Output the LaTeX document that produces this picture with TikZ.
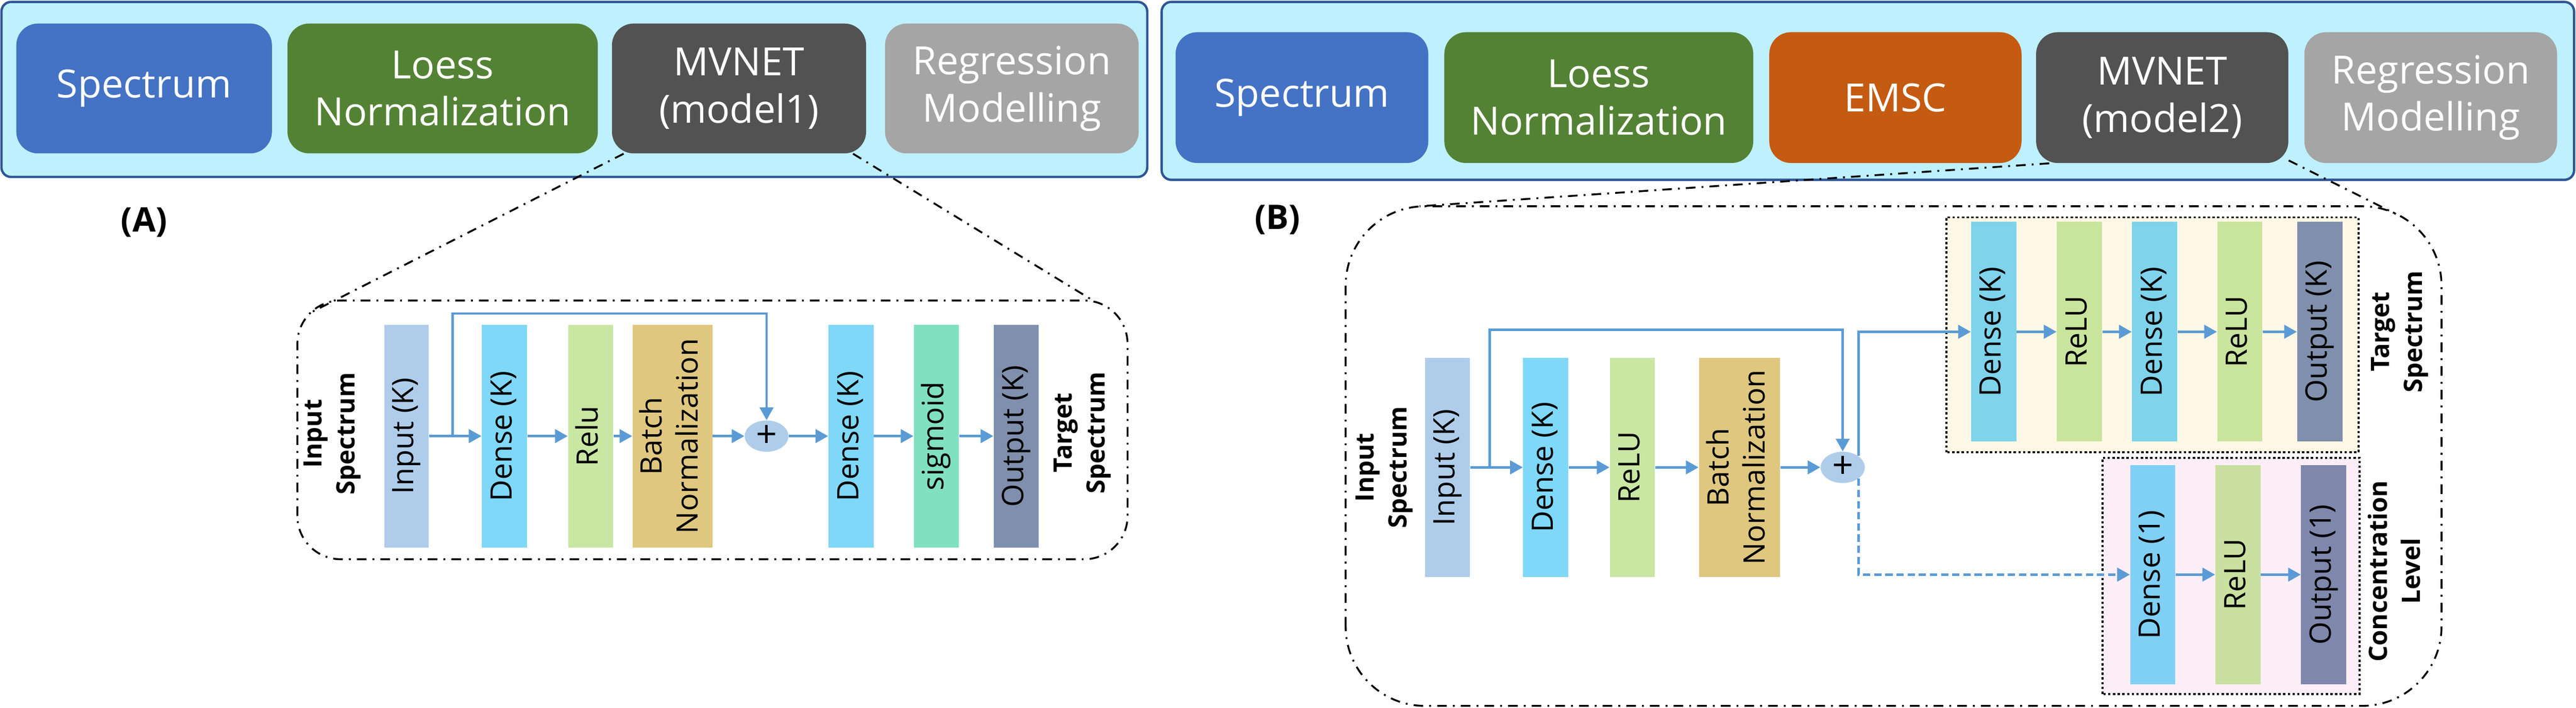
\documentclass[tikz,border=0pt]{standalone}
\usepackage{fontspec}
\setmainfont{Open Sans}
\usepackage{graphicx}
\usetikzlibrary{arrows.meta,positioning,shapes.geometric}

\definecolor{barfill}{HTML}{BEF0FD}
\definecolor{barline}{HTML}{2F5597}
\definecolor{cspec}{HTML}{4472C4}
\definecolor{closs}{HTML}{548235}
\definecolor{cemsc}{HTML}{C55A11}
\definecolor{cmvnet}{HTML}{525252}
\definecolor{creg}{HTML}{A5A5A5}
\definecolor{cinput}{HTML}{AFCDEB}
\definecolor{cdense}{HTML}{7FD8F8}
\definecolor{cdenseT}{HTML}{7FD3EA}
\definecolor{cdenseC}{HTML}{80CFF4}
\definecolor{crelu}{HTML}{C9E6A3}
\definecolor{creluT}{HTML}{C9E49C}
\definecolor{creluC}{HTML}{C9E0A0}
\definecolor{cbatch}{HTML}{DFC780}
\definecolor{csig}{HTML}{80E0C0}
\definecolor{cout}{HTML}{7F8FAD}
\definecolor{coutC}{HTML}{7F87AD}
\definecolor{carrow}{HTML}{5B9BD5}
\definecolor{ctarget}{HTML}{FFF8E6}
\definecolor{cconc}{HTML}{FDEEF8}

\newcommand{\vt}[1]{\rotatebox{90}{\begin{tabular}{@{}c@{}}#1\end{tabular}}}

\begin{document}
\begin{tikzpicture}
    \tikzset{stage/.style= {rectangle, rounded corners=0.45cm
    , minimum height=2.70cm, inner sep=0pt
    , text=white, align=center
    , font=\fontsize{23}{28}\selectfont
      },
    layer/.style= {rectangle, inner sep=0pt
    , minimum width=0.94cm, minimum height=4.57cm
    , font=\fontsize{17.5}{21.5}\selectfont
      },
    side/.style={font=\bfseries\fontsize{15}{19.5}\selectfont},
    plus/.style={ellipse, fill=cinput, inner sep=0pt
    , minimum width=0.91cm, minimum height=0.64cm
    , font=\fontsize{22}{22}\selectfont},
    flow/.style={draw=carrow, line width=1.4pt, -{Triangle[length=7.5pt,width=8pt]}},
    zoomline/.style={draw, line width=1.1pt, dash pattern=on 5.7pt off 3.6pt on 1.1pt off 3.6pt},
    group/.style={draw, line width=1.2pt, dash pattern=on 1.4pt off 1.4pt}
    }

\useasboundingbox (0,0) rectangle (53.62,14.72);

% pipeline bars
\draw[barline, fill=barfill, line width=1.4pt, rounded corners=0.2cm] (0.03,11.04) rectangle (23.88,14.68);
\draw[barline, fill=barfill, line width=1.4pt, rounded corners=0.2cm] (24.18,10.98) rectangle (53.58,14.68);

\node [stage, fill=cspec, minimum width=5.32cm] (specA) at (3.00,12.88) {Spectrum};
\node [stage, fill=closs, minimum width=6.46cm, right=0.31cm of specA] (loessA) {Loess\\Normalization};
\node [stage, fill=cmvnet, minimum width=5.29cm, right=0.28cm of loessA] (mvnetA) {MVNET\\(model1)};
\node [stage, fill=creg, minimum width=5.28cm, right=0.38cm of mvnetA] (regA) {Regression\\Modelling};

\node [stage, fill=cspec, minimum width=5.26cm, minimum height=2.72cm] (specB) at (27.10,12.69) {Spectrum};
\node [stage, fill=closs, minimum width=6.43cm, minimum height=2.72cm, right=0.32cm of specB] (loessB) {Loess\\Normalization};
\node [stage, fill=cemsc, minimum width=5.25cm, minimum height=2.72cm, right=0.32cm of loessB] (emscB) {EMSC};
\node [stage, fill=cmvnet, minimum width=5.25cm, minimum height=2.72cm, right=0.29cm of emscB] (mvnetB) {MVNET\\(model2)};
\node [stage, fill=creg, minimum width=5.26cm, minimum height=2.72cm, right=0.32cm of mvnetB] (regB) {Regression\\Modelling};

\node [font=\bfseries\fontsize{20}{24}\selectfont] (tagA) at (3.00,10.10) {(A)};
\node [font=\bfseries\fontsize{20}{24}\selectfont] (tagB) at (26.59,10.15) {(B)};

% zoom frames
\draw[zoomline, rounded corners=0.9cm] (6.19,3.09) rectangle (23.47,8.47);
\coordinate (zA1) at (6.45,8.21);
\coordinate (zA2) at (22.80,8.44);
\path[zoomline] ([xshift=0.25cm]mvnetA.south west) -- (zA1);
\path[zoomline] ([xshift=-0.28cm]mvnetA.south east) -- (zA2);

\draw[zoomline, rounded corners=1.65cm] (28.01,0.04) rectangle (50.82,10.43);
\coordinate (zB1) at (29.55,10.43);
\coordinate (zB2) at (49.87,10.27);
\path[zoomline] ([xshift=0.28cm]mvnetB.south west) -- (zB1);
\path[zoomline] ([yshift=0.06cm]mvnetB.south east) -- (zB2);

% model1
\node [layer, fill=cinput, minimum width=0.93cm, minimum height=4.63cm] (inA) at (8.46,5.65) {\vt{Input (K)}};
\node [layer, fill=cdense, minimum height=4.63cm, right=1.09cm of inA] (dnA) {\vt{Dense (K)}};
\node [layer, fill=crelu, minimum height=4.63cm, right=0.84cm of dnA] (reA) {\vt{Relu}};
\node [layer, fill=cbatch, minimum width=1.66cm, minimum height=4.63cm, right=0.39cm of reA] (bnA) {\vt{Batch\\Normalization}};
\node [plus, right=0.66cm of bnA] (addA) {+};
\node [layer, fill=cdense, minimum height=4.63cm, right=0.82cm of addA] (dnA2) {\vt{Dense (K)}};
\node [layer, fill=csig, minimum height=4.63cm, right=0.82cm of dnA2] (sgA) {\vt{sigmoid}};
\node [layer, fill=cout, minimum height=4.63cm, right=0.71cm of sgA] (outA) {\vt{Output (K)}};
\node [side] (srcA) at (6.90,5.70) {\vt{Input\\Spectrum}};
\node [side] (tgtA) at (22.52,5.72) {\vt{Target\\Spectrum}};

 \path[flow]
  (inA) -- (dnA);
 \path[flow] (dnA) -- (reA);
 \path[flow] (reA) -- (bnA);
 \path[flow] (bnA) -- (addA);
 \path[flow] (addA) -- (dnA2);
 \path[flow] (dnA2) -- (sgA);
 \path[flow] (sgA) -- (outA);
 \path[flow] ([xshift=0.49cm]inA.east) -- ++(0,2.55) -| (addA);

% model2
\draw[group, fill=ctarget] (40.51,5.31) rectangle (49.09,10.20);
\draw[group, fill=cconc] (43.76,0.29) rectangle (49.12,5.20);

\node [layer, fill=cinput, minimum height=4.56cm] (inB) at (30.13,5.00) {\vt{Input (K)}};
\node [layer, fill=cdense, minimum height=4.56cm, right=1.09cm of inB] (dnB) {\vt{Dense (K)}};
\node [layer, fill=crelu, minimum height=4.56cm, right=0.85cm of dnB] (reB) {\vt{ReLU}};
\node [layer, fill=cbatch, minimum width=1.69cm, minimum height=4.56cm, right=0.90cm of reB] (bnB) {\vt{Batch\\Normalization}};
\node [plus, minimum width=0.92cm, right=0.83cm of bnB] (addB) {+};
\node [side] (srcB) at (28.80,5.00) {\vt{Input\\Spectrum}};

\node [layer, fill=cdenseT] (tdn1) at (41.50,7.82) {\vt{Dense (K)}};
\node [layer, fill=creluT, right=0.83cm of tdn1] (tre1) {\vt{ReLU}};
\node [layer, fill=cdenseT, right=0.61cm of tre1] (tdn2) {\vt{Dense (K)}};
\node [layer, fill=creluT, right=0.82cm of tdn2] (tre2) {\vt{ReLU}};
\node [layer, fill=cout, right=0.71cm of tre2] (tout) {\vt{Output (K)}};
\node [side] (tgtB) at (49.94,7.82) {\vt{Target\\Spectrum}};

\node [layer, fill=cdenseC, minimum height=4.56cm] (cdn1) at (44.81,2.77) {\vt{Dense (1)}};
\node [layer, fill=creluC, minimum height=4.56cm, right=0.82cm of cdn1] (cre1) {\vt{ReLU}};
\node [layer, fill=coutC, minimum height=4.56cm, right=0.83cm of cre1] (cout1) {\vt{Output (1)}};
\node [side] (concB) at (49.90,2.84) {\vt{Concentration\\Level}};

 \path[flow]
  (inB) -- (dnB);
 \path[flow] (dnB) -- (reB);
 \path[flow] (reB) -- (bnB);
 \path[flow] (bnB) -- (addB);
 \path[flow] ([xshift=0.40cm]inB.east) -- ++(0,2.86) -| (addB);
 \path[flow] (addB.north east) |- (tdn1);
 \path[flow, dash pattern=on 4.3pt off 2.3pt] (addB.south east) |- (cdn1);
 \path[flow] (tdn1) -- (tre1);
 \path[flow] (tre1) -- (tdn2);
 \path[flow] (tdn2) -- (tre2);
 \path[flow] (tre2) -- (tout);
 \path[flow] (cdn1) -- (cre1);
 \path[flow] (cre1) -- (cout1);
\end{tikzpicture}
\end{document}
